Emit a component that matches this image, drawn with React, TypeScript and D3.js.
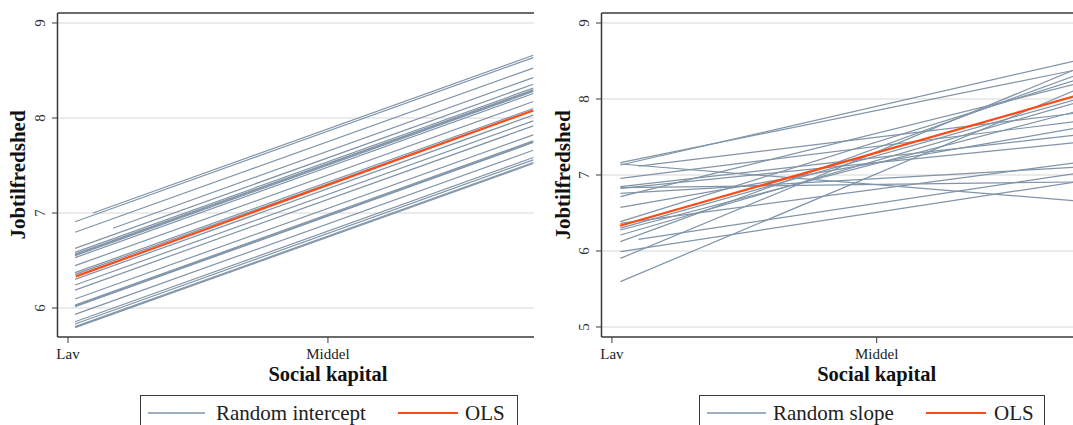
import React from "react";
import * as d3 from "d3";

// ---- data ----
const xTickValues = [0, 1];
const xTickLabels = ["Lav", "Middel"];
const yTicksLeft = [6, 7, 8, 9];
const yTicksRight = [5, 6, 7, 8, 9];

// OLS line: predicted value at Lav (0) and Middel (1)
const olsAtLav = 6.303;
const olsAtMiddel = 7.295;

// Random intercept model: start x and value at start, common slope
const riStartX = [0.027, 0.027, 0.027, 0.027, 0.027, 0.027, 0.027, 0.027, 0.027, 0.027, 0.027, 0.027, 0.027, 0.027, 0.027, 0.027, 0.027, 0.027, 0.027, 0.027, 0.027, 0.027, 0.027, 0.096, 0.173];
const riStartY = [6.908, 6.797, 6.628, 6.586, 6.568, 6.56, 6.551, 6.53, 6.446, 6.372, 6.354, 6.302, 6.242, 6.189, 6.095, 6.032, 6.022, 6.014, 5.933, 5.856, 5.832, 5.804, 5.793, 7.0, 6.84];
const riSlope = 0.98;
const riEndX = 1.79;

// Random slope model: start x, value at start, value at right edge
const rsStartX = [0.032, 0.032, 0.032, 0.1, 0.032, 0.032, 0.032, 0.032, 0.032, 0.032, 0.032, 0.032, 0.032, 0.032, 0.032, 0.032, 0.1, 0.032, 0.032, 0.032, 0.032];
const rsStartY = [7.162, 7.145, 7.132, 7.118, 6.956, 6.846, 6.833, 6.825, 6.759, 6.715, 6.575, 6.386, 6.364, 6.3, 6.276, 6.211, 6.154, 6.123, 5.991, 5.903, 5.597];
const rsEndY = [8.41, 6.65, 8.535, 7.83, 7.72, 7.54, 6.91, 7.44, 7.11, 8.23, 7.64, 8.29, 7.18, 8.03, 7.87, 7.99, 7.04, 8.36, 6.93, 8.447, 8.175];
const rsEndX = 1.79;

const lineStartX = 0.03;
const lineEndX = 1.79;

// ---- style ----
const GREY = "#8094a8";
const OLS = "#ff4a14";
const FRAME = "#3a3a3a";
const GRID = "#e4e4e4";
const FONT = "'Liberation Serif', 'DejaVu Serif', serif";

type Panel = {
  key: string;
  x0: number; x1: number; y0: number; y1: number;
  xDomain: [number, number]; yDomain: [number, number];
  yTicks: number[];
  titleX: number;
  legend: { bx0: number; bx1: number; l1: [number, number]; t1: number; l2: [number, number]; t2: number; label: string };
};

const panels: Panel[] = [
  {
    key: "ri", x0: 57.5, x1: 534, y0: 13, y1: 337,
    xDomain: [-0.0405, 1.7928], yDomain: [5.695, 9.105], yTicks: yTicksLeft, titleX: 18,
    legend: { bx0: 140.5, bx1: 517.5, l1: [148, 205], t1: 216, l2: [398, 458], t2: 465, label: "Random intercept" },
  },
  {
    key: "rs", x0: 601.5, x1: 1073, y0: 13, y1: 337,
    xDomain: [-0.0394, 1.7413], yDomain: [4.868, 9.132], yTicks: yTicksRight, titleX: 563,
    legend: { bx0: 699.5, bx1: 1044.5, l1: [707, 766], t1: 773, l2: [926, 986], t2: 994, label: "Random slope" },
  },
];

function PanelView({ p }: { p: Panel }) {
  const xs = d3.scaleLinear().domain(p.xDomain).range([p.x0, p.x1]);
  const ys = d3.scaleLinear().domain(p.yDomain).range([p.y1, p.y0]);
  const line = d3.line<[number, number]>().x((d) => xs(d[0])).y((d) => ys(d[1]));

  let grey: [number, number][][] = [];
  if (p.key === "ri") {
    grey = riStartY.map((v, i) => [
      [riStartX[i], v],
      [riEndX, v + riSlope * (riEndX - riStartX[i])],
    ]);
  } else {
    grey = rsStartY.map((v, i) => [
      [rsStartX[i], v],
      [rsEndX, rsEndY[i]],
    ]);
  }
  const olsSlope = olsAtMiddel - olsAtLav;
  const ols: [number, number][] = [
    [lineStartX, olsAtLav + olsSlope * lineStartX],
    [lineEndX, olsAtLav + olsSlope * lineEndX],
  ];
  const clipId = "clip-" + p.key;
  const midY = (p.y0 + p.y1) / 2;
  const lg = p.legend;
  return (
    <g>
      <defs>
        <clipPath id={clipId}>
          <rect x={p.x0} y={p.y0} width={p.x1 - p.x0} height={p.y1 - p.y0} />
        </clipPath>
      </defs>
      {p.yTicks.map((t) => (
        <line key={"g" + t} x1={p.x0} x2={p.x1} y1={ys(t)} y2={ys(t)} stroke={GRID} strokeWidth={1.4} />
      ))}
      <g clipPath={`url(#${clipId})`}>
        {grey.map((d, i) => (
          <path key={i} d={line(d) || ""} fill="none" stroke={GREY} strokeWidth={1.2} />
        ))}
        <path d={line(ols) || ""} fill="none" stroke={OLS} strokeWidth={2.2} />
      </g>
      {/* frame */}
      <line x1={p.x0} x2={p.x1} y1={p.y0} y2={p.y0} stroke={FRAME} strokeWidth={1.5} />
      <line x1={p.x0} x2={p.x1} y1={p.y1} y2={p.y1} stroke={FRAME} strokeWidth={1.5} />
      <line x1={p.x0} x2={p.x0} y1={p.y0} y2={p.y1} stroke={FRAME} strokeWidth={1.5} />
      {/* y ticks */}
      {p.yTicks.map((t) => (
        <g key={"t" + t}>
          <line x1={p.x0 - 5.5} x2={p.x0} y1={ys(t)} y2={ys(t)} stroke={FRAME} strokeWidth={1} />
          <text
            transform={`translate(${p.x0 - 13},${ys(t)}) rotate(-90)`}
            textAnchor="middle"
            fontFamily={FONT}
            fontSize={15}
            fill="#333"
          >
            {t}
          </text>
        </g>
      ))}
      {/* x ticks */}
      {xTickValues.map((v, i) => (
        <g key={"x" + v}>
          <line x1={xs(v)} x2={xs(v)} y1={p.y1} y2={p.y1 + 6} stroke={FRAME} strokeWidth={1} />
          <text x={xs(v)} y={p.y1 + 22} textAnchor="middle" fontFamily={FONT} fontSize={15} fill="#222">
            {xTickLabels[i]}
          </text>
        </g>
      ))}
      {/* titles */}
      <text
        transform={`translate(${p.titleX + 7},${midY}) rotate(-90)`}
        textAnchor="middle"
        fontFamily={FONT}
        fontSize={21}
        fontWeight="bold"
        fill="#111"
      >
        Jobtilfredshed
      </text>
      <text x={xs(1)} y={381} textAnchor="middle" fontFamily={FONT} fontSize={20.5} fontWeight="bold" fill="#111">
        Social kapital
      </text>
      {/* legend */}
      <rect x={lg.bx0} y={395.5} width={lg.bx1 - lg.bx0} height={60} fill="white" stroke={FRAME} strokeWidth={1} />
      <line x1={lg.l1[0]} x2={lg.l1[1]} y1={413} y2={413} stroke={GREY} strokeWidth={1.5} />
      <text x={lg.t1} y={420} fontFamily={FONT} fontSize={21} fill="#222">{lg.label}</text>
      <line x1={lg.l2[0]} x2={lg.l2[1]} y1={413} y2={413} stroke={OLS} strokeWidth={2} />
      <text x={lg.t2} y={420} fontFamily={FONT} fontSize={21} fill="#222">OLS</text>
    </g>
  );
}

export default function App() {
  return (
    <div style={{ position: "fixed", left: 0, top: 0, width: 1073, height: 425, background: "white" }}>
      <svg width={1073} height={425} style={{ display: "block" }}>
        <rect x={0} y={0} width={1073} height={425} fill="white" />
        {panels.map((p) => (
          <PanelView key={p.key} p={p} />
        ))}
      </svg>
    </div>
  );
}
